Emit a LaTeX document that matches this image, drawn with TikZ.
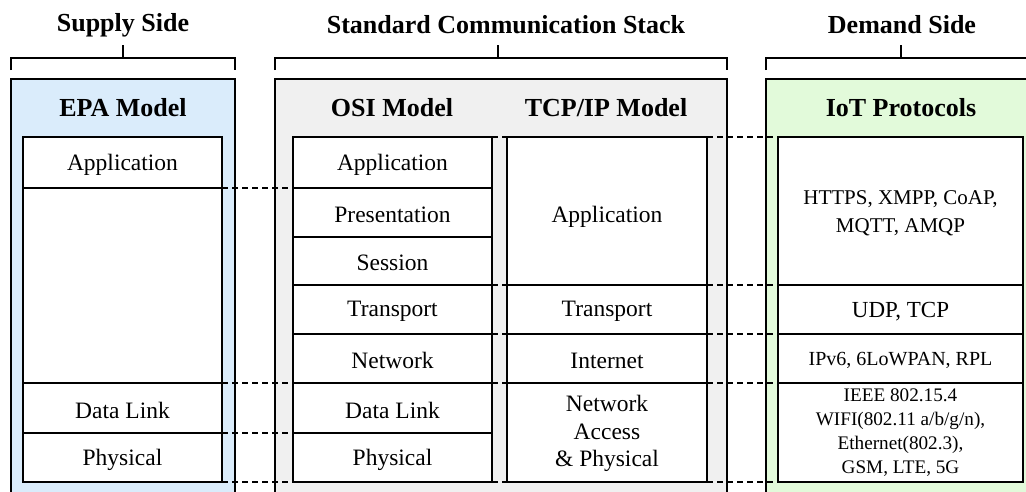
\documentclass[tikz,border=0pt]{standalone}
\usepackage{fontspec}
\setmainfont{Liberation Serif}
\definecolor{epablue}{RGB}{218,236,251}
\definecolor{stackgray}{RGB}{240,240,240}
\definecolor{iotgreen}{RGB}{226,250,218}
\newcommand{\cellfont}{\fontsize{23.5}{28}\selectfont}
\newcommand{\headfont}{\fontsize{26}{30}\selectfont\bfseries}
\begin{document}
\begin{tikzpicture}[x=1pt,y=-1pt,
  panel/.style={draw, line width=1.4pt, inner sep=0pt, outer sep=0pt, anchor=north west},
  box/.style={draw, fill=white, line width=1.3pt, inner sep=0pt, outer sep=0pt,
    anchor=north west},
  celltext/.style={inner sep=0pt, align=center, font=\cellfont},
  head/.style={font=\headfont, inner sep=0pt},
  link/.style={dash pattern=on 6pt off 4pt, line width=1.2pt},
  brace/.style={line width=1.4pt}]
\useasboundingbox (0,0) rectangle (1026,491);
\clip (0,0) rectangle (1026,491);

% group panels
\node[panel, fill=epablue, minimum width=224pt, minimum height=440pt] (epa) at (11,79) {};
\node[panel, fill=stackgray, minimum width=452pt, minimum height=440pt] (stack) at (275,79) {};
\node[panel, fill=iotgreen, minimum width=270pt, minimum height=440pt] (iot) at (766,79) {};

% group titles and braces
\node[head] (supply) at (123,25) {Supply Side};
\node[head] (standard) at (506,25) {Standard Communication Stack};
\node[head] (demand) at (902,25) {Demand Side};
\draw[brace] (11,70) -- (11,58) -- (235,58) -- (235,70) (123,58) -- (123,45);
\draw[brace] (275,70) -- (275,58) -- (727,58) -- (727,70) (498,58) -- (498,45);
\draw[brace] (766,70) -- (766,58) -- (1036,58) -- (1036,70) (901,58) -- (901,45);

% panel headings
\node[head] (epatitle) at (123,108) {EPA Model};
\node[head] (osititle) at (392,108) {OSI Model};
\node[head] (tcptitle) at (606,108) {TCP/IP Model};
\node[head] (iottitle) at (901,108) {IoT Protocols};

% EPA model
\node[box, minimum width=199pt, minimum height=51pt] (epaApp) at (23,137) {};
\node[box, minimum width=199pt, minimum height=195pt] (epaGap) at (23,188) {};
\node[box, minimum width=199pt, minimum height=50pt] (epaDL) at (23,383) {};
\node[box, minimum width=199pt, minimum height=49pt] (epaPhy) at (23,433) {};

% OSI model
\node[box, minimum width=199pt, minimum height=51pt] (osiApp) at (293,137) {};
\node[box, minimum width=199pt, minimum height=49pt] (osiPre) at (293,188) {};
\node[box, minimum width=199pt, minimum height=48pt] (osiSes) at (293,237) {};
\node[box, minimum width=199pt, minimum height=49pt] (osiTra) at (293,285) {};
\node[box, minimum width=199pt, minimum height=49pt] (osiNet) at (293,334) {};
\node[box, minimum width=199pt, minimum height=50pt] (osiDL) at (293,383) {};
\node[box, minimum width=199pt, minimum height=49pt] (osiPhy) at (293,433) {};

% TCP/IP model
\node[box, minimum width=200pt, minimum height=148pt] (tcpApp) at (507,137) {};
\node[box, minimum width=200pt, minimum height=49pt] (tcpTra) at (507,285) {};
\node[box, minimum width=200pt, minimum height=49pt] (tcpInt) at (507,334) {};
\node[box, minimum width=200pt, minimum height=99pt] (tcpNA) at (507,383) {};

% IoT protocols
\node[box, minimum width=245pt, minimum height=148pt] (iotApp) at (778,137) {};
\node[box, minimum width=245pt, minimum height=49pt] (iotTra) at (778,285) {};
\node[box, minimum width=245pt, minimum height=49pt] (iotNet) at (778,334) {};
\node[box, minimum width=245pt, minimum height=99pt] (iotLink) at (778,383) {};

% layer names
\node[celltext] (tEpaApp) at ([yshift=-2pt]epaApp.center) {Application};
\node[celltext] (tEpaDL)  at ([yshift=-2pt]epaDL.center) {Data Link};
\node[celltext] (tEpaPhy) at ([yshift=-2pt]epaPhy.center) {Physical};

\node[celltext] (tOsiApp) at ([yshift=-2pt]osiApp.center) {Application};
\node[celltext] (tOsiPre) at ([yshift=-2pt]osiPre.center) {Presentation};
\node[celltext] (tOsiSes) at ([yshift=-2pt]osiSes.center) {Session};
\node[celltext] (tOsiTra) at ([yshift=-2pt]osiTra.center) {Transport};
\node[celltext] (tOsiNet) at ([yshift=-2pt]osiNet.center) {Network};
\node[celltext] (tOsiDL)  at ([yshift=-2pt]osiDL.center) {Data Link};
\node[celltext] (tOsiPhy) at ([yshift=-2pt]osiPhy.center) {Physical};

\node[celltext] (tTcpApp) at ([yshift=-6pt]tcpApp.center) {Application};
\node[celltext] (tTcpTra) at ([yshift=-2pt]tcpTra.center) {Transport};
\node[celltext] (tTcpInt) at ([yshift=-2pt]tcpInt.center) {Internet};
\node[celltext, font=\fontsize{23.5}{27.5}\selectfont] (tTcpNA) at ([yshift=-1pt]tcpNA.center) {Network\\Access\\\& Physical};

\node[celltext, font=\fontsize{21}{28.5}\selectfont] (tIotApp) at ([yshift=-2pt]iotApp.center) {HTTPS, XMPP, CoAP,\\MQTT, AMQP};
\node[celltext, font=\fontsize{23}{28}\selectfont] (tIotTra) at ([yshift=-2pt]iotTra.center) {UDP, TCP};
\node[celltext, font=\fontsize{20}{28}\selectfont] (tIotNet) at ([yshift=-2pt]iotNet.center) {IPv6, 6LoWPAN, RPL};
\node[celltext, font=\fontsize{19.2}{24}\selectfont] (tIotLink) at (iotLink.center) {IEEE 802.15.4\\WIFI(802.11 a/b/g/n),\\Ethernet(802.3),\\GSM, LTE, 5G};

% layer correspondences: EPA to OSI
\draw[link] (epaApp.south east) -- (osiApp.south west);
\draw[link] (epaGap.south east) -- (osiNet.south west);
\draw[link] (epaDL.south east) -- (osiDL.south west);
\draw[link] (epaPhy.south east) -- (osiPhy.south west);

% OSI to TCP/IP
\draw[link] (osiApp.north east) -- (tcpApp.north west);
\draw[link] (osiSes.south east) -- (tcpApp.south west);
\draw[link] (osiTra.south east) -- (tcpTra.south west);
\draw[link] (osiNet.south east) -- (tcpInt.south west);
\draw[link] (osiPhy.south east) -- (tcpNA.south west);

% TCP/IP to IoT protocols
\draw[link] (tcpApp.north east) -- (iotApp.north west);
\draw[link] (tcpApp.south east) -- (iotApp.south west);
\draw[link] (tcpTra.south east) -- (iotTra.south west);
\draw[link] (tcpInt.south east) -- (iotNet.south west);
\draw[link] (tcpNA.south east) -- (iotLink.south west);
\end{tikzpicture}
\end{document}
